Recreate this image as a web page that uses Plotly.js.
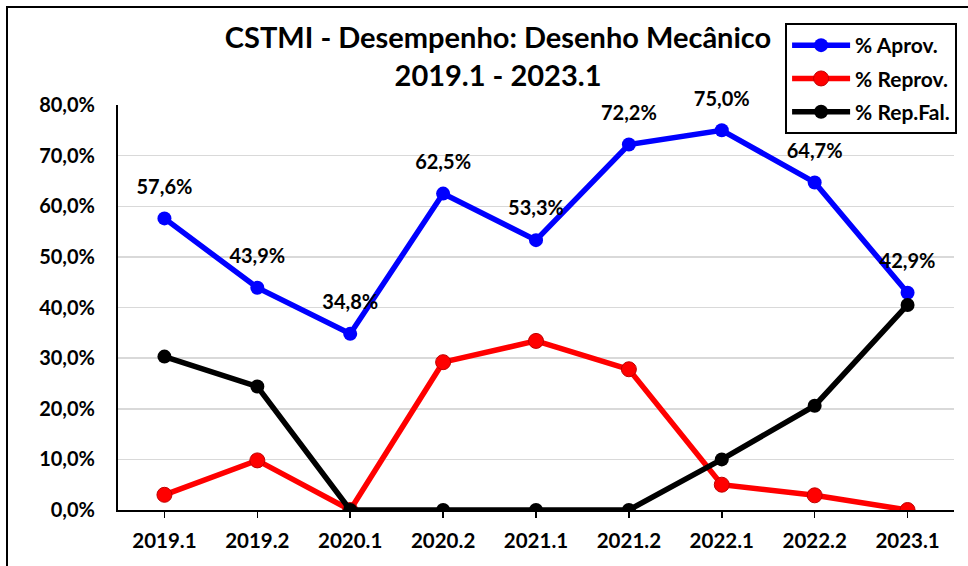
<!DOCTYPE html>
<html>
<head>
<meta charset="utf-8">
<script src="https://cdn.plot.ly/plotly-3.0.1.min.js"></script>
<style>
  html, body { margin: 0; padding: 0; background: #fff; overflow: hidden; }
  #chart { position: absolute; left: 0; top: 0; width: 968px; height: 566px; }
  #frame { position: absolute; left: 6px; top: 6px; width: 1000px; height: 1000px;
           border: 2px solid #000; pointer-events: none; }
</style>
</head>
<body>
<div id="chart"></div>
<div id="frame"></div>
<script>
const categories = ['2019.1','2019.2','2020.1','2020.2','2021.1','2021.2','2022.1','2022.2','2023.1'];
const aprov   = [57.6, 43.9, 34.8, 62.5, 53.3, 72.2, 75.0, 64.7, 42.9];
const reprov  = [3.0, 9.8, 0.0, 29.2, 33.4, 27.8, 5.0, 2.9, 0.0];
const repFal  = [30.3, 24.4, 0.0, 0.0, 0.0, 0.0, 10.0, 20.6, 40.5];
const yTicks  = [0, 10, 20, 30, 40, 50, 60, 70, 80];
const yTickText = ['0,0%','10,0%','20,0%','30,0%','40,0%','50,0%','60,0%','70,0%','80,0%'];
const aprovLabels = aprov.map(v => v.toFixed(1).replace('.', ',') + '%');

const FONT = 'Lato, "Open Sans", sans-serif';

const traces = [
  { name: '% Aprov.', x: categories, y: aprov, type: 'scatter', mode: 'lines+markers',
    legendgroup: 'a',
    line: { color: '#0000ff', width: 5.5 }, marker: { color: '#0000ff', size: 14 } },
  { name: '% Reprov.', x: categories, y: reprov, type: 'scatter', mode: 'lines+markers',
    legendgroup: 'b',
    line: { color: '#ff0000', width: 5.5 }, marker: { color: '#ff0000', size: 15, line: { color: '#c00000', width: 1 } } },
  { name: '% Rep.Fal.', x: categories, y: repFal, type: 'scatter', mode: 'lines+markers',
    legendgroup: 'c',
    line: { color: '#000000', width: 5.5 }, marker: { color: '#000000', size: 14 } },
  { name: 'labels', x: categories, y: aprov, type: 'scatter', mode: 'markers+text',
    showlegend: false, hoverinfo: 'skip', cliponaxis: false,
    text: aprovLabels, textposition: 'top center',
    textfont: { family: FONT, size: 20, color: '#000', weight: 'bold' },
    marker: { size: 30, opacity: 0, color: '#fff' } }
];

const layout = {
  width: 968, height: 566,
  margin: { l: 118, r: 13, t: 105, b: 56 },
  paper_bgcolor: '#fff', plot_bgcolor: '#fff',
  font: { family: FONT, color: '#000' },
  title: {
    text: '<b>CSTMI - Desempenho: Desenho Mecânico<br>2019.1 - 2023.1</b>',
    x: 0.5145, xanchor: 'center', xref: 'container',
    y: 0.915, yanchor: 'top', yref: 'container',
    font: { family: FONT, size: 29, color: '#000' }
  },
  xaxis: {
    type: 'category', range: [-0.5, 8.5],
    showgrid: false, showline: true, linecolor: '#000', linewidth: 2,
    ticks: 'outside', ticklen: 6, tickcolor: '#000', tickwidth: 1.5,
    tickfont: { family: FONT, size: 20.5, color: '#000', weight: 'bold' },
    ticklabelstandoff: 5,
    zeroline: false
  },
  yaxis: {
    range: [0, 80], tickvals: yTicks, ticktext: yTickText,
    showgrid: true, gridcolor: '#d9d9d9', gridwidth: 1.5,
    showline: true, linecolor: '#000', linewidth: 2,
    ticks: '', ticklabelstandoff: 17,
    tickfont: { family: FONT, size: 20, color: '#000', weight: 'bold' },
    zeroline: false
  },
  legend: {
    x: 0.797, y: 1.2025, xanchor: 'left', yanchor: 'top',
    bordercolor: '#000', borderwidth: 2, bgcolor: '#fff',
    font: { family: FONT, size: 21, color: '#000', weight: 'bold' },
    tracegroupgap: 3, traceorder: 'grouped', itemwidth: 58
  },
  showlegend: true
};

Plotly.newPlot('chart', traces, layout, { displayModeBar: false, staticPlot: true });
</script>
</body>
</html>
